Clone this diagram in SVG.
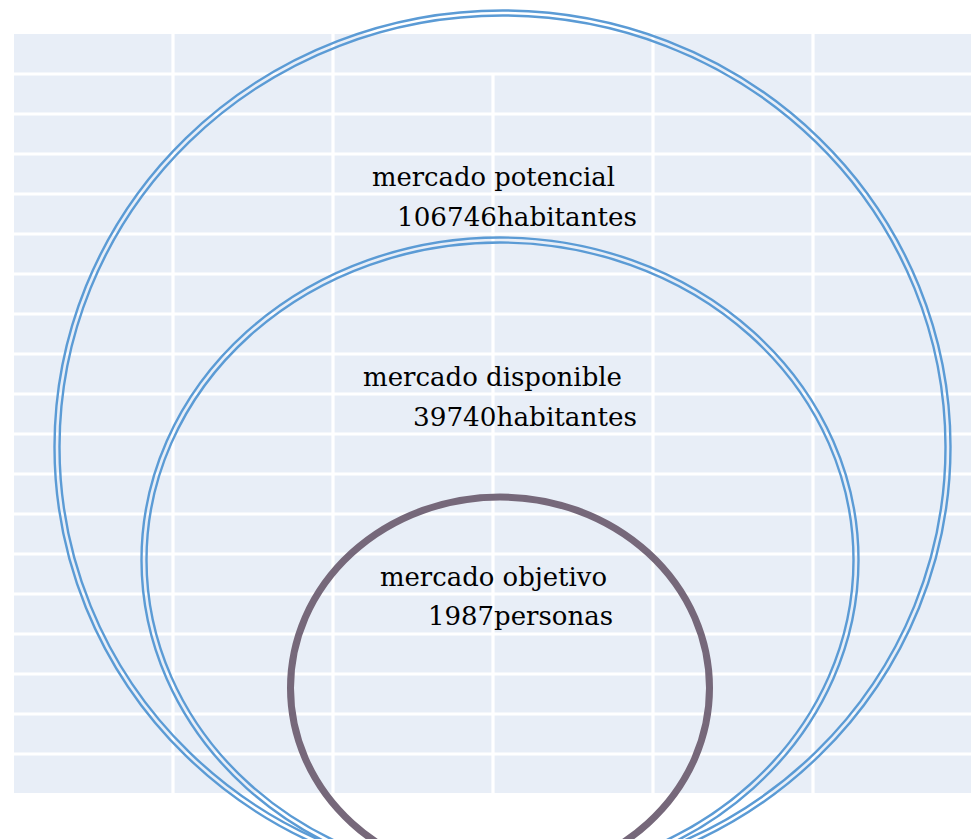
<svg xmlns="http://www.w3.org/2000/svg" width="974" height="839" viewBox="0 0 974 839">
<style>
.grid line{stroke:#ffffff;stroke-width:3.2}
.ring{fill:none;stroke:#5b9bd5;stroke-width:2.4}
.inner{fill:none;stroke:#76687a;stroke-width:7}
.lbl{font-family:"DejaVu Serif","Liberation Serif",serif;font-size:26px;fill:#000000}
</style>
<rect x="0" y="0" width="974" height="839" fill="#ffffff"/>
<g id="background">
<rect x="14" y="34" width="957" height="759" fill="#e8eef7"/>
<g class="grid">
<line x1="14" y1="74" x2="971" y2="74"/>
<line x1="14" y1="114" x2="971" y2="114"/>
<line x1="14" y1="154" x2="971" y2="154"/>
<line x1="14" y1="194" x2="971" y2="194"/>
<line x1="14" y1="234" x2="971" y2="234"/>
<line x1="14" y1="274" x2="971" y2="274"/>
<line x1="14" y1="314" x2="971" y2="314"/>
<line x1="14" y1="354" x2="971" y2="354"/>
<line x1="14" y1="394" x2="971" y2="394"/>
<line x1="14" y1="434" x2="971" y2="434"/>
<line x1="14" y1="474" x2="971" y2="474"/>
<line x1="14" y1="514" x2="971" y2="514"/>
<line x1="14" y1="554" x2="971" y2="554"/>
<line x1="14" y1="594" x2="971" y2="594"/>
<line x1="14" y1="634" x2="971" y2="634"/>
<line x1="14" y1="674" x2="971" y2="674"/>
<line x1="14" y1="714" x2="971" y2="714"/>
<line x1="14" y1="754" x2="971" y2="754"/>
<line x1="173" y1="34" x2="173" y2="793"/>
<line x1="333" y1="34" x2="333" y2="793"/>
<line x1="493" y1="74" x2="493" y2="793"/>
<line x1="653" y1="34" x2="653" y2="793"/>
<line x1="813" y1="34" x2="813" y2="793"/>
</g>
</g>
<g id="mercado-potencial">
<ellipse class="ring" cx="502.5" cy="447" rx="448" ry="436.5"/>
<ellipse class="ring" cx="502.5" cy="447" rx="443" ry="431.5"/>
<text class="lbl" x="372" y="186" textLength="243" lengthAdjust="spacingAndGlyphs">mercado potencial</text>
<text class="lbl" x="397" y="226" textLength="240" lengthAdjust="spacingAndGlyphs">106746habitantes</text>
</g>
<g id="mercado-disponible">
<ellipse class="ring" cx="500" cy="560" rx="358.5" ry="322.5"/>
<ellipse class="ring" cx="500" cy="560" rx="353.5" ry="317.5"/>
<text class="lbl" x="363" y="386" textLength="259" lengthAdjust="spacingAndGlyphs">mercado disponible</text>
<text class="lbl" x="413" y="426" textLength="224" lengthAdjust="spacingAndGlyphs">39740habitantes</text>
</g>
<g id="mercado-objetivo">
<ellipse class="inner" cx="500" cy="688" rx="209.5" ry="191"/>
<text class="lbl" x="380" y="586" textLength="227" lengthAdjust="spacingAndGlyphs">mercado objetivo</text>
<text class="lbl" x="428" y="625" textLength="185" lengthAdjust="spacingAndGlyphs">1987personas</text>
</g>
<g id="connectors"></g>
</svg>
